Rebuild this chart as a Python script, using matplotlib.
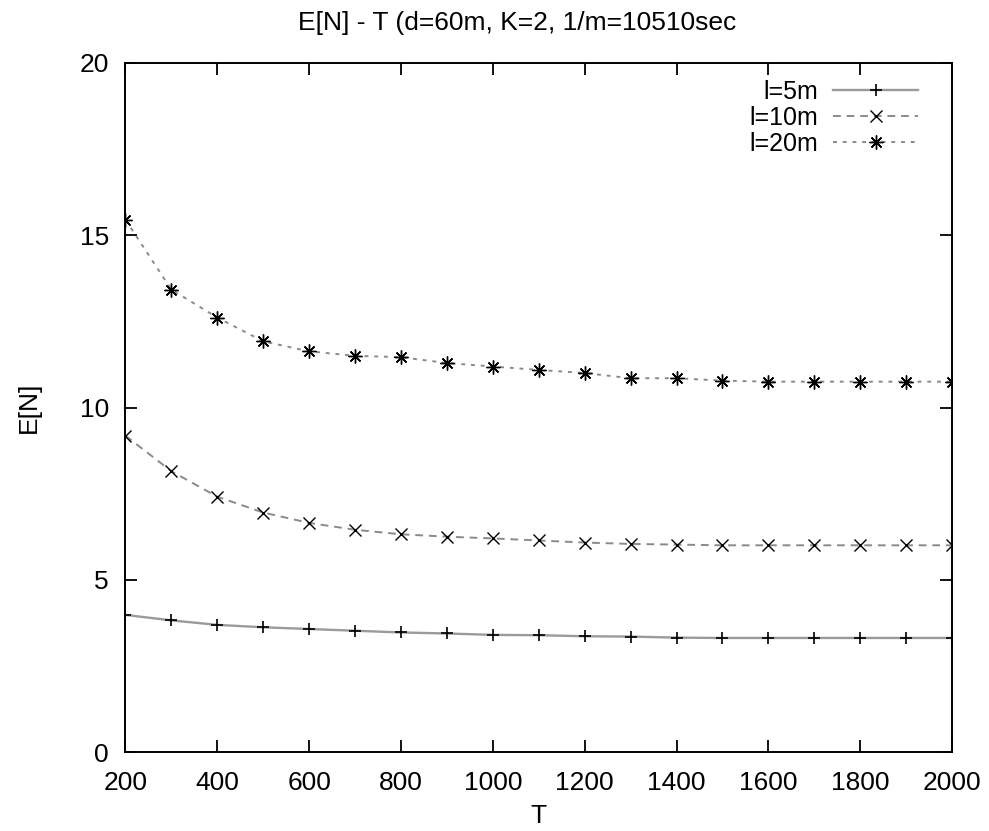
import matplotlib
matplotlib.use('Agg')
import matplotlib.pyplot as plt

plt.rcParams['font.family'] = 'Liberation Sans'

T = [200, 300, 400, 500, 600, 700, 800, 900, 1000, 1100,
     1200, 1300, 1400, 1500, 1600, 1700, 1800, 1900, 2000]

# E[N]
en_5m = [3.98, 3.82, 3.69, 3.62, 3.57, 3.52, 3.47, 3.44, 3.40, 3.39,
         3.36, 3.35, 3.32, 3.31, 3.31, 3.31, 3.31, 3.31, 3.31]
en_10m = [9.18, 8.15, 7.41, 6.95, 6.65, 6.45, 6.32, 6.25, 6.20, 6.14,
          6.08, 6.04, 6.02, 6.00, 6.00, 6.00, 6.00, 6.00, 6.00]
en_20m = [15.45, 13.42, 12.61, 11.92, 11.63, 11.50, 11.46, 11.29, 11.19, 11.09,
          11.00, 10.85, 10.85, 10.78, 10.75, 10.75, 10.75, 10.75, 10.75]

labels = ['l=5m', 'l=10m', 'l=20m']

W, H = 989, 831
fig = plt.figure(figsize=(W/100, H/100), dpi=100)
ax = fig.add_axes([125.5/W, 1 - 752/H, (952-125.5)/W, (752-63)/H])

ax.plot(T, en_5m, color='#9a9a9a', linestyle='-', linewidth=1.7,
        marker='+', markersize=9, markeredgecolor='black', markeredgewidth=1.2, label=labels[0])
ax.plot(T, en_10m, color='#8a8a8a', linestyle=(0, (4, 3)), linewidth=1.4,
        marker='x', markersize=9, markeredgecolor='black', markeredgewidth=1.0, label=labels[1])
ax.plot(T, en_20m, color='#8a8a8a', linestyle=(0, (2, 3)), linewidth=1.4,
        marker=(8, 2, 0), markersize=10, markeredgecolor='black', markeredgewidth=1.0, label=labels[2])

ax.set_xlim(200, 2000)
ax.set_ylim(0, 20)
ax.set_xticks(range(200, 2001, 200))
ax.set_yticks([0, 5, 10, 15, 20])
ax.tick_params(direction='in', length=8.5, width=1.3, top=True, right=True,
               labelsize=19)
ax.tick_params(axis='x', pad=14)
ax.tick_params(axis='y', pad=12)
for s in ax.spines.values():
    s.set_linewidth(1.4)

ax.set_xlabel('T', fontsize=19, labelpad=6)
ax.set_ylabel('E[N]', fontsize=19, labelpad=28)
ax.set_title('E[N] - T (d=60m, K=2, 1/m=10510sec', fontsize=19, pad=24, x=0.474)

ax.legend(loc='upper right', bbox_to_anchor=(0.959, 0.976), frameon=False,
          markerfirst=False, fontsize=18, handlelength=3.4, handletextpad=0.6,
          labelspacing=0.08, borderaxespad=0, borderpad=0)

fig.savefig('out.png', dpi=100)
